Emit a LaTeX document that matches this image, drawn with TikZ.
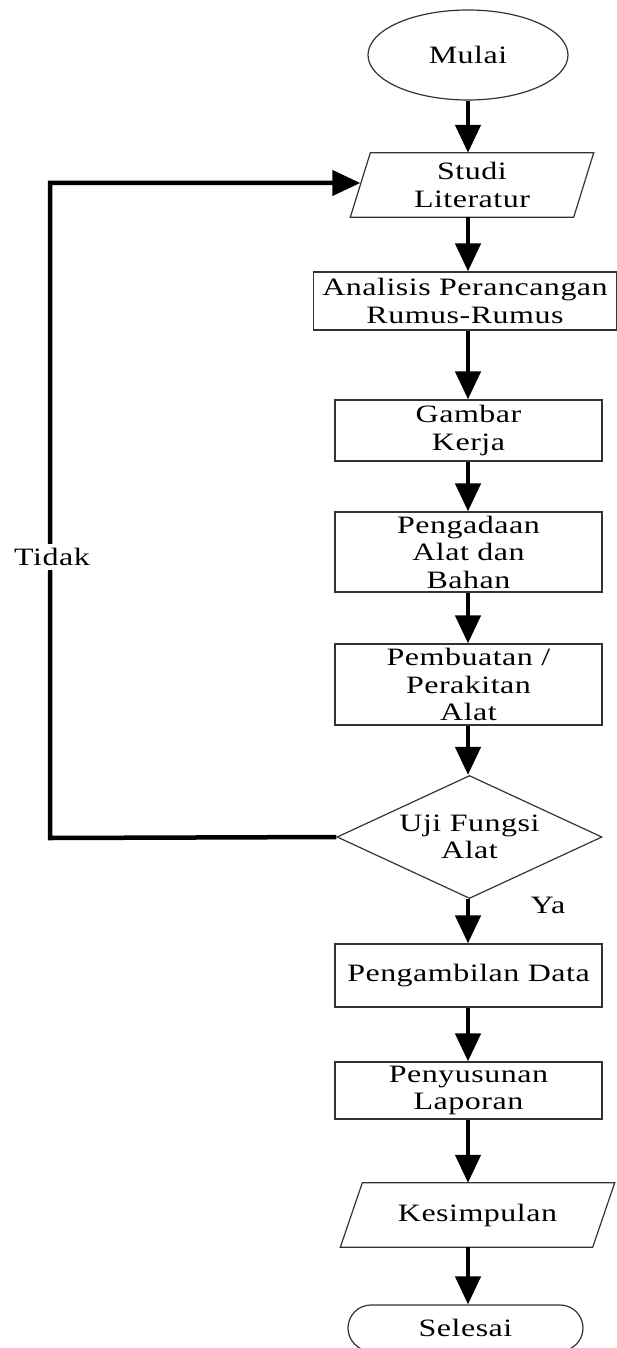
\documentclass[tikz,border=0pt]{standalone}
\usepackage{fontspec}
\setmainfont[FakeStretch=1.28, LetterSpace=2]{Liberation Serif}
\usetikzlibrary{shapes.geometric,arrows.meta}

\begin{document}
\begin{tikzpicture}[x=1pt, y=-1pt,
    txt/.style={inner sep=0pt, align=center, font=\fontsize{25}{27.5}\selectfont},
    box/.style={txt, rectangle, draw=black!80, line width=1.2pt},
    flow/.style={line width=4.5pt, -{Triangle[length=28pt, width=25pt]}}]
  \useasboundingbox (0,0) rectangle (616,1348);
  % Nodes (top to bottom)
  \node (mulai) at (468,55) [box, ellipse, minimum width=200pt, minimum height=90pt] {Mulai};
  \node (studi) at (472,185) [txt, minimum width=223pt, minimum height=64pt] {Studi\\Literatur};
  \node (rumus) at (465,301) [box, minimum width=303pt, minimum height=58pt] {Analisis Perancangan\\Rumus-Rumus};
  \node (gambar) at (468.5,430.5) [box, minimum width=267pt, minimum height=61pt] {Gambar\\Kerja};
  \node (bahan) at (468.5,552) [box, minimum width=267pt, minimum height=80pt] {Pengadaan\\Alat dan\\Bahan};
  \node (rakit) at (468.5,684.5) [box, minimum width=267pt, minimum height=81pt] {Pembuatan /\\Perakitan\\Alat};
  \node (uji) at (469.5,837) [box, diamond, aspect=2.15, minimum width=265pt, minimum height=123pt] {Uji Fungsi\\Alat};
  \node (data) at (468.5,975.5) [box, minimum width=267pt, minimum height=63pt] {Pengambilan Data};
  \node (lapor) at (468.5,1090.5) [box, minimum width=267pt, minimum height=57pt] {Penyusunan\\Laporan};
  \node (simpul) at (477.5,1215) [txt, minimum width=252pt, minimum height=64pt] {Kesimpulan};
  \node (selesai) at (465.5,1328) [box, rounded corners=23pt, minimum width=235pt, minimum height=46pt] {Selesai};
  % Parallelograms
  \draw[draw=black!80, line width=1.2pt] ([xshift=10pt]studi.north west) -- ([xshift=10pt]studi.north east)
    -- ([xshift=-10pt]studi.south east) -- ([xshift=-10pt]studi.south west) -- cycle;
  \draw[draw=black!80, line width=1.2pt] ([xshift=11pt]simpul.north west) -- ([xshift=11pt]simpul.north east)
    -- ([xshift=-11pt]simpul.south east) -- ([xshift=-11pt]simpul.south west) -- cycle;
  % Edges
  \draw[flow] (mulai.south) -- (mulai.south |- studi.north);
  \draw[flow] (studi.south -| mulai.south) -- (rumus.north -| mulai.south);
  \draw[flow] (rumus.south -| mulai.south) -- (gambar.north -| mulai.south);
  \draw[flow] (gambar.south -| mulai.south) -- (bahan.north -| mulai.south);
  \draw[flow] (bahan.south -| mulai.south) -- (rakit.north -| mulai.south);
  \draw[flow] (rakit.south -| mulai.south) -- (uji.north -| mulai.south);
  \draw[flow] (uji.south -| mulai.south) -- (data.north -| mulai.south);
  \draw[flow] (data.south -| mulai.south) -- (lapor.north -| mulai.south);
  \draw[flow] (lapor.south -| mulai.south) -- (simpul.north -| mulai.south);
  \draw[flow] (simpul.south -| mulai.south) -- (selesai.north -| mulai.south);
  % Loop back
  \coordinate (lb) at (50,838);
  \coordinate (lt) at (50,183);
  \draw[flow] (uji.west) -- (lb) -- (lt) -- (lt -| studi.west);
  \node (tidak) at (52,557) [txt, fill=white, inner ysep=4pt] {Tidak};
  \node (ya) at (548,905) [txt] {Ya};
\end{tikzpicture}
\end{document}
